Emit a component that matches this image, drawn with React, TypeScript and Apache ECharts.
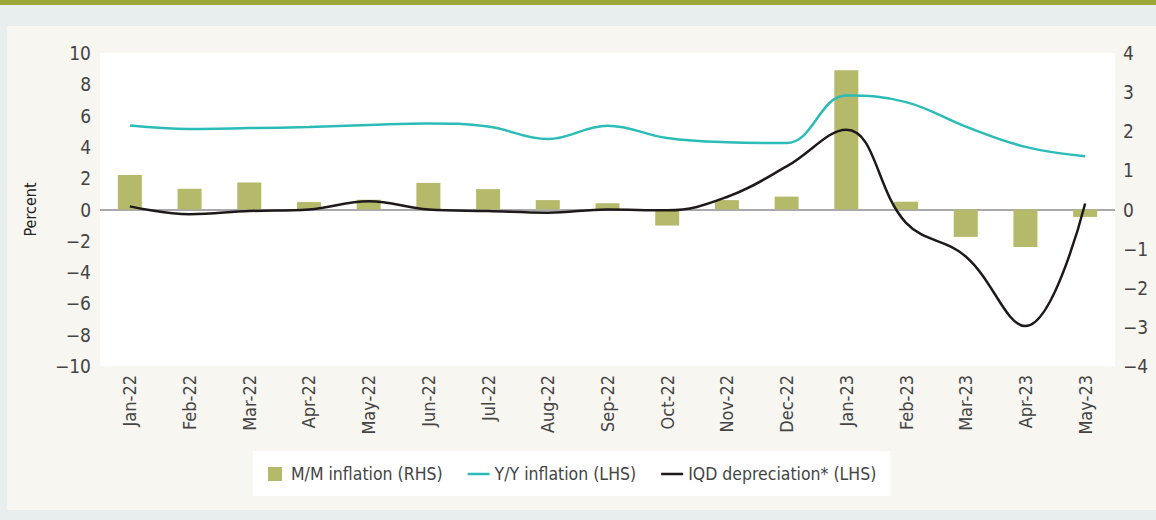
import React, { useEffect, useRef } from "react";
import * as echarts from "echarts";

const categories = [
  "Jan-22", "Feb-22", "Mar-22", "Apr-22", "May-22", "Jun-22", "Jul-22", "Aug-22", "Sep-22",
  "Oct-22", "Nov-22", "Dec-22", "Jan-23", "Feb-23", "Mar-23", "Apr-23", "May-23",
];
const mmInflation = [0.88, 0.53, 0.69, 0.19, 0.25, 0.68, 0.52, 0.24, 0.16, -0.41, 0.24, 0.33, 3.56, 0.2, -0.7, -0.96, -0.19];
const yyInflation = [5.37, 5.15, 5.2, 5.27, 5.4, 5.5, 5.3, 4.5, 5.35, 4.57, 4.3, 4.25, 7.28, 6.86, 5.3, 4.0, 3.4];
const iqdDepreciation = [0.2, -0.3, -0.1, 0, 0.53, 0, -0.1, -0.2, 0, -0.05, 0.8, 2.75, 5.1, -0.85, -3.0, -7.45, 0.38];
const leftTicks = { min: -10, max: 10, interval: 2 };
const rightTicks = { min: -4, max: 4, interval: 1 };

const FONT = "'DejaVu Sans Condensed', 'Liberation Sans', sans-serif";
const TXT = "#444";

export default function App() {
  const ref = useRef<HTMLDivElement>(null);
  useEffect(() => {
    if (!ref.current) return;
    const chart = echarts.init(ref.current, undefined, { renderer: "svg" });
    const minus = (v: number) => String(v).replace("-", "\u2212");
    chart.setOption({
      animation: false,
      backgroundColor: "#e8eeee",
      textStyle: { fontFamily: FONT },
      graphic: [
        { type: "rect", shape: { x: 0, y: 0, width: 1156, height: 5 }, style: { fill: "#9aa736" }, z: -10 },
        { type: "rect", shape: { x: 7, y: 26, width: 1149, height: 484 }, style: { fill: "#f8f6f0" }, z: -10 },
      ],
      grid: { left: 100, right: 41, top: 53, bottom: 154, show: true, backgroundColor: "#ffffff", borderWidth: 0 },
      legend: {
        left: 253,
        top: 451,
        backgroundColor: "#ffffff",
        padding: [14, 14, 13, 15],
        itemGap: 25,
        itemWidth: 22,
        itemHeight: 14,
        textStyle: { fontFamily: FONT, fontSize: 17.5, color: TXT },
        data: [
          { name: "M/M inflation (RHS)", icon: "path://M0 0H14V14H0Z" },
          { name: "Y/Y inflation (LHS)", icon: "path://M0 0H22V2.5H0Z" },
          { name: "IQD depreciation* (LHS)", icon: "path://M0 0H22V2.5H0Z" },
        ],
      },
      xAxis: {
        type: "category",
        data: categories,
        axisLine: { show: false },
        axisTick: { show: false },
        axisLabel: { rotate: 90, margin: 9, fontSize: 18, color: TXT, fontFamily: FONT },
      },
      yAxis: [
        {
          type: "value",
          ...leftTicks,
          position: "left",
          name: "Percent",
          nameLocation: "middle",
          nameGap: 62,
          nameTextStyle: { fontSize: 16, color: "#222", fontFamily: FONT },
          axisLine: { show: false },
          axisTick: { show: false },
          splitLine: { show: false },
          axisLabel: { fontSize: 19, color: TXT, margin: 9, fontFamily: FONT, formatter: minus },
        },
        {
          type: "value",
          ...rightTicks,
          position: "right",
          axisLine: { show: false },
          axisTick: { show: false },
          splitLine: { show: false },
          axisLabel: { fontSize: 19, color: TXT, margin: 8, fontFamily: FONT, formatter: minus },
        },
      ],
      series: [
        {
          name: "M/M inflation (RHS)",
          type: "bar",
          yAxisIndex: 1,
          data: mmInflation,
          barWidth: 24,
          itemStyle: { color: "#b5ba6b" },
          markLine: {
            silent: true,
            symbol: "none",
            label: { show: false },
            lineStyle: { color: "#a9a9ad", width: 2, type: "solid" },
            data: [{ yAxis: 0 }],
            z: 1,
          },
        },
        {
          name: "Y/Y inflation (LHS)",
          type: "line",
          yAxisIndex: 0,
          data: yyInflation,
          smooth: 0.4,
          symbol: "none",
          lineStyle: { color: "#2bbcb8", width: 2.5 },
          itemStyle: { color: "#2bbcb8" },
          z: 3,
        },
        {
          name: "IQD depreciation* (LHS)",
          type: "line",
          yAxisIndex: 0,
          data: iqdDepreciation,
          smooth: 0.4,
          symbol: "none",
          lineStyle: { color: "#1e1a1a", width: 2.5 },
          itemStyle: { color: "#1e1a1a" },
          z: 4,
        },
      ],
    });
    return () => chart.dispose();
  }, []);
  return <div ref={ref} style={{ position: "fixed", left: 0, top: 0, width: 1156, height: 520 }} />;
}
